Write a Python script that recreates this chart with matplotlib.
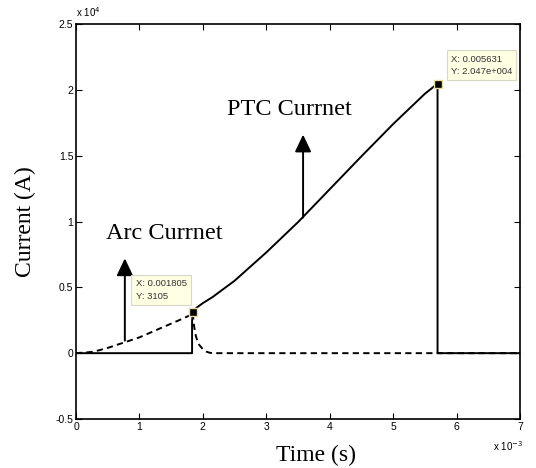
import matplotlib
matplotlib.use("Agg")
import matplotlib.pyplot as plt
from matplotlib.ticker import FixedLocator, FuncFormatter

# ---- data (time in s, current in A) ----
ptc_t = [0.0, 0.00183, 0.00183, 0.00184, 0.0019, 0.0020, 0.00215, 0.0025,
         0.0030, 0.0035, 0.0040, 0.0045, 0.0050, 0.0055, 0.0057,
         0.0057, 0.007]
ptc_i = [0, 0, 2400, 3105, 3450, 3800, 4250, 5500,
         7650, 9950, 12450, 14950, 17400, 19700, 20470,
         0, 0]

arc_t = [0.0, 0.00027, 0.0005, 0.00077, 0.001, 0.00133, 0.0016, 0.0018, 0.00184,
         0.00186, 0.00189, 0.00193, 0.0020, 0.00205, 0.0021, 0.00215, 0.007]
arc_i = [0, 100, 400, 830, 1200, 1890, 2450, 2880, 3105,
         2100, 1300, 700, 300, 130, 40, 0, 0]

tip_x = [0.00184, 0.0057]
tip_y = [3105, 20470]
tip_txt = ["X: 0.001805\nY: 3105", "X: 0.005631\nY: 2.047e+004"]

xticks = [0, 0.001, 0.002, 0.003, 0.004, 0.005, 0.006, 0.007]
yticks = [-5000, 0, 5000, 10000, 15000, 20000, 25000]

fig = plt.figure(figsize=(5.36, 4.68), dpi=100)
ax = fig.add_axes([76/536, 1-419/468, 444/536, 395/468])

ax.plot(ptc_t, ptc_i, color="black", lw=1.4, solid_joinstyle="round")
ax.plot(arc_t, arc_i, color="black", lw=1.4, ls=(0, (3.2, 2.2)))

ax.set_xlim(0, 0.007)
ax.set_ylim(-5000, 25000)
ax.xaxis.set_major_locator(FixedLocator(xticks))
ax.yaxis.set_major_locator(FixedLocator(yticks))
ax.xaxis.set_major_formatter(FuncFormatter(lambda v, p: "%g" % round(v*1e3, 6)))
ax.yaxis.set_major_formatter(FuncFormatter(lambda v, p: "%g" % round(v/1e4, 6)))
ax.tick_params(direction="in", length=4, width=0.8, labelsize=7.5, pad=2,
               top=True, right=True, colors="black")
for lab in ax.get_xticklabels() + ax.get_yticklabels():
    lab.set_family("Liberation Sans")
for s in ax.spines.values():
    s.set_linewidth(1.2)

# multiplier texts
ax.text(0.0, 1.012, r"x 10$^{4}$", transform=ax.transAxes, fontsize=7,
        family="Liberation Sans", ha="left", va="bottom")
ax.text(0.94, -0.05, r"x 10$^{-3}$", transform=ax.transAxes, fontsize=7,
        family="Liberation Sans", ha="left", va="top")

ax.set_xlabel("Time (s)", family="Liberation Serif", fontsize=17)
ax.xaxis.set_label_coords(0.54, -0.065, transform=ax.transAxes)
ax.xaxis.label.set_va("top")
ax.set_ylabel("Current (A)", family="Liberation Serif", fontsize=17, labelpad=14)

# annotation arrows
arrow_style = dict(arrowstyle="-|>,head_width=0.5,head_length=1.05",
                   color="black", lw=1.4, shrinkA=0, shrinkB=0)
ax.annotate("", xy=(0.00077, 7200), xytext=(0.00077, 950), arrowprops=arrow_style)
ax.annotate("", xy=(0.00358, 16600), xytext=(0.00358, 10300), arrowprops=arrow_style)
ax.text(0.00048, 9100, "Arc Currnet", family="Liberation Serif", fontsize=17.5,
        ha="left", va="center")
ax.text(0.00238, 18500, "PTC Currnet", family="Liberation Serif", fontsize=17.5,
        ha="left", va="center")

# data tips
ax.plot(tip_x, tip_y, ls="none", marker="s", ms=6, mfc="black", mec="#e8e0a0",
        mew=1.0, zorder=5)
offsets = [(-0.0009, 2500), (0.00021, 2200)]
for tx, ty, txt, (dx, dy) in zip(tip_x, tip_y, tip_txt, offsets):
    ax.text(tx + dx, ty + dy, txt, fontsize=6.8, family="Liberation Sans",
            ha="left", va="top", color="#333333", linespacing=1.5,
            bbox=dict(boxstyle="square,pad=0.45", fc="#ffffe4", ec="#d8d8c8", lw=0.8),
            zorder=6)

fig.savefig("out.png", dpi=100)
